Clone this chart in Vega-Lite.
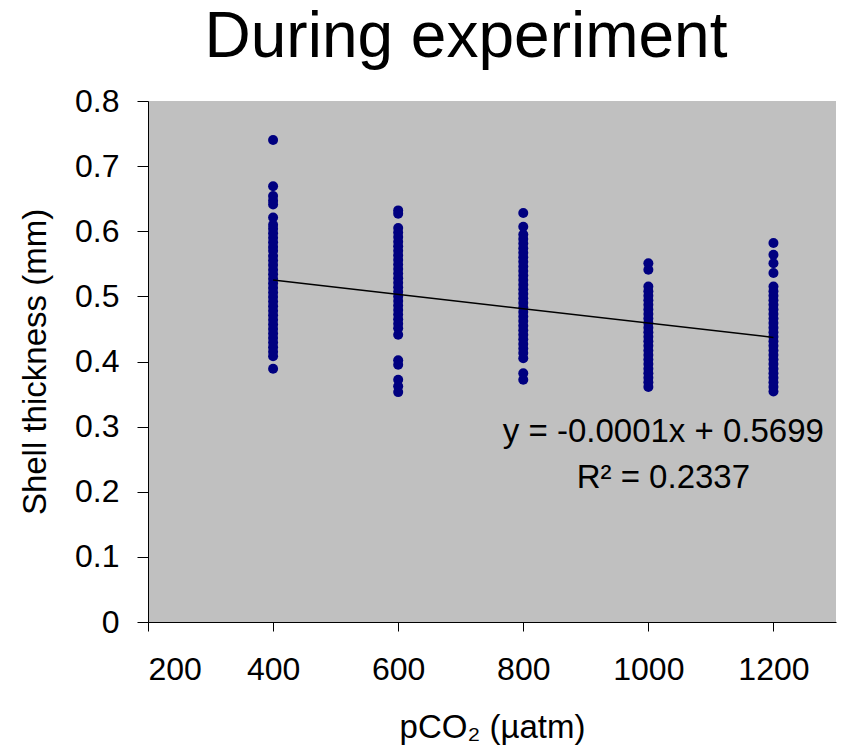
{
  "$schema": "https://vega.github.io/schema/vega-lite/v6.json",
  "width": 688,
  "height": 521,
  "autosize": "none",
  "padding": {"left": 148, "top": 101, "right": 5, "bottom": 132},
  "background": "white",
  "config": {
    "font": "Liberation Sans",
    "view": {"fill": "#C0C0C0", "stroke": null},
    "axis": {
      "grid": false,
      "domainColor": "black",
      "domainWidth": 1,
      "tickColor": "black",
      "tickWidth": 1,
      "tickSize": 11,
      "labelFont": "Liberation Sans",
      "labelFontSize": 32,
      "labelColor": "black",
      "titleFont": "Liberation Sans",
      "titleFontSize": 33,
      "titleFontWeight": "normal",
      "titleColor": "black"
    }
  },
  "title": {
    "text": "During experiment",
    "font": "Liberation Sans",
    "fontSize": 64,
    "fontWeight": "normal",
    "color": "black",
    "anchor": "middle",
    "dx": -26,
    "offset": 15
  },
  "datasets": {
    "points": [
      {"pco2": 400, "thickness": 0.740},
      {"pco2": 400, "thickness": 0.669},
      {"pco2": 400, "thickness": 0.654},
      {"pco2": 400, "thickness": 0.647},
      {"pco2": 400, "thickness": 0.641},
      {"pco2": 400, "thickness": 0.621},
      {"pco2": 400, "thickness": 0.610},
      {"pco2": 400, "thickness": 0.604},
      {"pco2": 400, "thickness": 0.597},
      {"pco2": 400, "thickness": 0.590},
      {"pco2": 400, "thickness": 0.583},
      {"pco2": 400, "thickness": 0.576},
      {"pco2": 400, "thickness": 0.570},
      {"pco2": 400, "thickness": 0.562},
      {"pco2": 400, "thickness": 0.555},
      {"pco2": 400, "thickness": 0.548},
      {"pco2": 400, "thickness": 0.541},
      {"pco2": 400, "thickness": 0.534},
      {"pco2": 400, "thickness": 0.527},
      {"pco2": 400, "thickness": 0.520},
      {"pco2": 400, "thickness": 0.513},
      {"pco2": 400, "thickness": 0.506},
      {"pco2": 400, "thickness": 0.499},
      {"pco2": 400, "thickness": 0.492},
      {"pco2": 400, "thickness": 0.485},
      {"pco2": 400, "thickness": 0.478},
      {"pco2": 400, "thickness": 0.471},
      {"pco2": 400, "thickness": 0.464},
      {"pco2": 400, "thickness": 0.457},
      {"pco2": 400, "thickness": 0.450},
      {"pco2": 400, "thickness": 0.443},
      {"pco2": 400, "thickness": 0.436},
      {"pco2": 400, "thickness": 0.429},
      {"pco2": 400, "thickness": 0.422},
      {"pco2": 400, "thickness": 0.415},
      {"pco2": 400, "thickness": 0.408},
      {"pco2": 400, "thickness": 0.389},
      {"pco2": 600, "thickness": 0.632},
      {"pco2": 600, "thickness": 0.627},
      {"pco2": 600, "thickness": 0.605},
      {"pco2": 600, "thickness": 0.598},
      {"pco2": 600, "thickness": 0.591},
      {"pco2": 600, "thickness": 0.584},
      {"pco2": 600, "thickness": 0.577},
      {"pco2": 600, "thickness": 0.570},
      {"pco2": 600, "thickness": 0.563},
      {"pco2": 600, "thickness": 0.556},
      {"pco2": 600, "thickness": 0.549},
      {"pco2": 600, "thickness": 0.542},
      {"pco2": 600, "thickness": 0.535},
      {"pco2": 600, "thickness": 0.528},
      {"pco2": 600, "thickness": 0.521},
      {"pco2": 600, "thickness": 0.514},
      {"pco2": 600, "thickness": 0.507},
      {"pco2": 600, "thickness": 0.500},
      {"pco2": 600, "thickness": 0.493},
      {"pco2": 600, "thickness": 0.486},
      {"pco2": 600, "thickness": 0.479},
      {"pco2": 600, "thickness": 0.472},
      {"pco2": 600, "thickness": 0.465},
      {"pco2": 600, "thickness": 0.458},
      {"pco2": 600, "thickness": 0.451},
      {"pco2": 600, "thickness": 0.441},
      {"pco2": 600, "thickness": 0.402},
      {"pco2": 600, "thickness": 0.395},
      {"pco2": 600, "thickness": 0.372},
      {"pco2": 600, "thickness": 0.362},
      {"pco2": 600, "thickness": 0.353},
      {"pco2": 800, "thickness": 0.628},
      {"pco2": 800, "thickness": 0.607},
      {"pco2": 800, "thickness": 0.595},
      {"pco2": 800, "thickness": 0.588},
      {"pco2": 800, "thickness": 0.581},
      {"pco2": 800, "thickness": 0.574},
      {"pco2": 800, "thickness": 0.567},
      {"pco2": 800, "thickness": 0.560},
      {"pco2": 800, "thickness": 0.553},
      {"pco2": 800, "thickness": 0.546},
      {"pco2": 800, "thickness": 0.539},
      {"pco2": 800, "thickness": 0.532},
      {"pco2": 800, "thickness": 0.525},
      {"pco2": 800, "thickness": 0.518},
      {"pco2": 800, "thickness": 0.511},
      {"pco2": 800, "thickness": 0.504},
      {"pco2": 800, "thickness": 0.497},
      {"pco2": 800, "thickness": 0.490},
      {"pco2": 800, "thickness": 0.483},
      {"pco2": 800, "thickness": 0.476},
      {"pco2": 800, "thickness": 0.469},
      {"pco2": 800, "thickness": 0.462},
      {"pco2": 800, "thickness": 0.455},
      {"pco2": 800, "thickness": 0.448},
      {"pco2": 800, "thickness": 0.441},
      {"pco2": 800, "thickness": 0.434},
      {"pco2": 800, "thickness": 0.427},
      {"pco2": 800, "thickness": 0.420},
      {"pco2": 800, "thickness": 0.413},
      {"pco2": 800, "thickness": 0.405},
      {"pco2": 800, "thickness": 0.382},
      {"pco2": 800, "thickness": 0.372},
      {"pco2": 1000, "thickness": 0.551},
      {"pco2": 1000, "thickness": 0.541},
      {"pco2": 1000, "thickness": 0.515},
      {"pco2": 1000, "thickness": 0.508},
      {"pco2": 1000, "thickness": 0.501},
      {"pco2": 1000, "thickness": 0.494},
      {"pco2": 1000, "thickness": 0.487},
      {"pco2": 1000, "thickness": 0.480},
      {"pco2": 1000, "thickness": 0.473},
      {"pco2": 1000, "thickness": 0.466},
      {"pco2": 1000, "thickness": 0.459},
      {"pco2": 1000, "thickness": 0.452},
      {"pco2": 1000, "thickness": 0.445},
      {"pco2": 1000, "thickness": 0.438},
      {"pco2": 1000, "thickness": 0.431},
      {"pco2": 1000, "thickness": 0.424},
      {"pco2": 1000, "thickness": 0.417},
      {"pco2": 1000, "thickness": 0.410},
      {"pco2": 1000, "thickness": 0.403},
      {"pco2": 1000, "thickness": 0.396},
      {"pco2": 1000, "thickness": 0.389},
      {"pco2": 1000, "thickness": 0.382},
      {"pco2": 1000, "thickness": 0.375},
      {"pco2": 1000, "thickness": 0.368},
      {"pco2": 1000, "thickness": 0.361},
      {"pco2": 1200, "thickness": 0.582},
      {"pco2": 1200, "thickness": 0.564},
      {"pco2": 1200, "thickness": 0.551},
      {"pco2": 1200, "thickness": 0.536},
      {"pco2": 1200, "thickness": 0.515},
      {"pco2": 1200, "thickness": 0.508},
      {"pco2": 1200, "thickness": 0.501},
      {"pco2": 1200, "thickness": 0.494},
      {"pco2": 1200, "thickness": 0.487},
      {"pco2": 1200, "thickness": 0.480},
      {"pco2": 1200, "thickness": 0.473},
      {"pco2": 1200, "thickness": 0.466},
      {"pco2": 1200, "thickness": 0.459},
      {"pco2": 1200, "thickness": 0.452},
      {"pco2": 1200, "thickness": 0.445},
      {"pco2": 1200, "thickness": 0.438},
      {"pco2": 1200, "thickness": 0.431},
      {"pco2": 1200, "thickness": 0.424},
      {"pco2": 1200, "thickness": 0.417},
      {"pco2": 1200, "thickness": 0.410},
      {"pco2": 1200, "thickness": 0.403},
      {"pco2": 1200, "thickness": 0.396},
      {"pco2": 1200, "thickness": 0.389},
      {"pco2": 1200, "thickness": 0.382},
      {"pco2": 1200, "thickness": 0.375},
      {"pco2": 1200, "thickness": 0.368},
      {"pco2": 1200, "thickness": 0.361},
      {"pco2": 1200, "thickness": 0.354}
    ],
    "trend": [
      {"pco2": 400, "thickness": 0.525},
      {"pco2": 1200, "thickness": 0.437}
    ],
    "labels": [
      {"pco2": 1024, "thickness": 0.277, "text": "y = -0.0001x + 0.5699"},
      {"pco2": 1024, "thickness": 0.206, "text": "R² = 0.2337"}
    ]
  },
  "encoding": {
    "x": {
      "field": "pco2",
      "type": "quantitative",
      "scale": {"domain": [200, 1300], "nice": false, "zero": false},
      "axis": {
        "title": "pCO₂ (µatm)",
        "values": [200, 400, 600, 800, 1000, 1200],
        "format": "d",
        "labelPadding": 23,
        "titlePadding": 26,
        "tickSize": 9
      }
    },
    "y": {
      "field": "thickness",
      "type": "quantitative",
      "scale": {"domain": [0, 0.8], "nice": false},
      "axis": {
        "title": "Shell thickness (mm)",
        "values": [0, 0.1, 0.2, 0.3, 0.4, 0.5, 0.6, 0.7, 0.8],
        "format": "~g",
        "labelPadding": 18,
        "titlePadding": 22
      }
    }
  },
  "layer": [
    {
      "data": {"name": "points"},
      "mark": {"type": "point", "filled": true, "shape": "circle", "size": 100, "color": "#000080", "opacity": 1}
    },
    {
      "data": {"name": "trend"},
      "mark": {"type": "line", "color": "black", "strokeWidth": 1.5}
    },
    {
      "data": {"name": "labels"},
      "mark": {"type": "text", "fontSize": 33, "align": "center", "baseline": "alphabetic", "color": "black", "font": "Liberation Sans"},
      "encoding": {"text": {"field": "text"}}
    }
  ]
}
